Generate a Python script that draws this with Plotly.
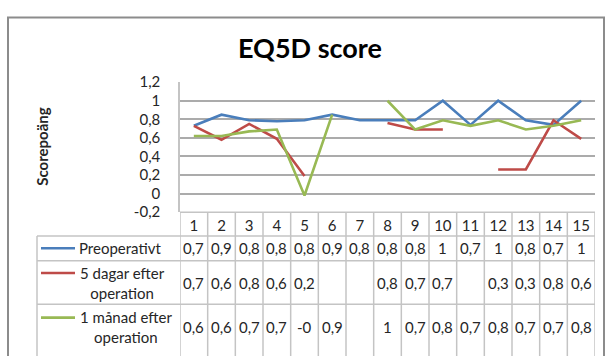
import plotly.graph_objects as go

# ---------------- data ----------------
categories = list(range(1, 16))
preoperativt = [0.73, 0.85, 0.79, 0.78, 0.79, 0.85, 0.79, 0.79, 0.79, 1.0, 0.74, 1.0, 0.79, 0.74, 1.0]
dagar5 = [0.73, 0.58, 0.75, 0.59, 0.19, None, None, 0.76, 0.69, 0.69, None, 0.26, 0.26, 0.79, 0.59]
manad1 = [0.62, 0.62, 0.67, 0.69, -0.02, 0.85, None, 1.0, 0.69, 0.79, 0.73, 0.79, 0.69, 0.73, 0.79]

pre_txt = ["0,7", "0,9", "0,8", "0,8", "0,8", "0,9", "0,8", "0,8", "0,8", "1", "0,7", "1", "0,8", "0,7", "1"]
d5_txt = ["0,7", "0,6", "0,8", "0,6", "0,2", "", "", "0,8", "0,7", "0,7", "", "0,3", "0,3", "0,8", "0,6"]
m1_txt = ["0,6", "0,6", "0,7", "0,7", "-0", "0,9", "", "1", "0,7", "0,8", "0,7", "0,8", "0,7", "0,7", "0,8"]

series_names = ["Preoperativt", "5 dagar efter<br>operation", "1 månad efter<br>operation"]
series_colors = ["#4A7EBB", "#BE4B48", "#98B954"]

y_tickvals = [-0.2, 0, 0.2, 0.4, 0.6, 0.8, 1.0, 1.2]
y_ticktext = ["-0,2", "0", "0,2", "0,4", "0,6", "0,8", "1", "1,2"]

title_text = "EQ5D score"
y_title = "Scorepoäng"

# ---------------- layout helpers ----------------
W, H = 605, 356
def px(x):
    return x / W
def py(y):
    return 1 - y / H

FONT = "Lato, Carlito, Calibri, sans-serif"
TXT = "#262626"
GRID = "#ababab"
CELL = "#c4c4c4"
FS = 15

fig = go.Figure()
for vals, name, col in zip([preoperativt, dagar5, manad1], series_names, series_colors):
    fig.add_trace(go.Scatter(x=categories, y=vals, mode="lines", name=name.replace("<br>", " "),
                             line=dict(color=col, width=2.6), connectgaps=False, showlegend=False,
                             hoverinfo="skip"))

shapes = []
annotations = []

# chart border (left and top visible)
shapes.append(dict(type="rect", xref="paper", yref="paper", x0=px(8), x1=px(604), y0=py(370), y1=py(8),
                   line=dict(color="#8c8c8c", width=2), layer="above"))

# table geometry (pixels)
table_left = 37
axis_left = 180
table_right = 595
row_lines = [238, 264, 310]

shapes.append(dict(type="line", xref="paper", yref="paper", x0=px(axis_left), x1=px(table_right),
                   y0=py(213), y1=py(213), line=dict(color=CELL, width=1.5)))
for yy in row_lines:
    shapes.append(dict(type="line", xref="paper", yref="paper", x0=px(table_left), x1=px(table_right),
                       y0=py(yy), y1=py(yy), line=dict(color=CELL, width=1.5)))
shapes.append(dict(type="line", xref="paper", yref="paper", x0=px(table_left), x1=px(table_left),
                   y0=py(238), y1=py(370), line=dict(color=CELL, width=1.5)))
for k in range(len(categories) + 1):
    shapes.append(dict(type="line", xref="x", yref="paper", x0=k + 0.5, x1=k + 0.5,
                       y0=py(213), y1=py(370), line=dict(color=CELL, width=1.5)))

row_centers = [251, 288, 334]
swatch_y = [251, 277, 324]
label_x = [120, 122, 126]
for r, (txts, name, col) in enumerate(zip([pre_txt, d5_txt, m1_txt], series_names, series_colors)):
    for c, t in zip(categories, txts):
        if t:
            annotations.append(dict(x=c, y=py(row_centers[r]), xref="x", yref="paper", text=t,
                                    showarrow=False, xanchor="center", yanchor="middle",
                                    font=dict(family=FONT, size=FS, color=TXT)))
    shapes.append(dict(type="line", xref="paper", yref="paper", x0=px(41), x1=px(75),
                       y0=py(swatch_y[r]), y1=py(swatch_y[r]), line=dict(color=col, width=2.6)))
    if r == 0:
        annotations.append(dict(x=px(77), y=py(row_centers[r]), xref="paper", yref="paper", text=name,
                                showarrow=False, xanchor="left", yanchor="middle",
                                font=dict(family=FONT, size=FS, color=TXT)))
    else:
        annotations.append(dict(x=px(label_x[r]), y=py(row_centers[r]), xref="paper", yref="paper", text=name,
                                showarrow=False, xanchor="center", yanchor="middle", align="center",
                                font=dict(family=FONT, size=FS, color=TXT)))

annotations.append(dict(x=px(310), y=py(39), xref="paper", yref="paper", text="<b>" + title_text + "</b>",
                        showarrow=False, xanchor="center", yanchor="middle",
                        font=dict(family=FONT, size=27, color="#000000")))
annotations.append(dict(x=px(42), y=py(144), xref="paper", yref="paper", text="<b>" + y_title + "</b>",
                        showarrow=False, textangle=-90, xanchor="center", yanchor="middle",
                        font=dict(family=FONT, size=15, color=TXT)))

fig.update_layout(
    width=W, height=H,
    margin=dict(l=0, r=0, t=0, b=0),
    paper_bgcolor="white", plot_bgcolor="white",
    shapes=shapes, annotations=annotations,
    showlegend=False,
    xaxis=dict(domain=[px(axis_left), px(table_right)], range=[0.5, 15.5],
               tickvals=categories, ticktext=[str(c) for c in categories],
               showgrid=False, zeroline=False, showline=False, ticks="",
               ticklabelstandoff=3,
               tickfont=dict(family=FONT, size=FS, color=TXT), fixedrange=True),
    yaxis=dict(domain=[py(213), py(76)], range=[-0.2, 1.2],
               tickvals=y_tickvals, ticktext=y_ticktext,
               showgrid=True, gridcolor=GRID, gridwidth=1.5, zeroline=False,
               showline=True, linecolor=CELL, linewidth=1.5, ticks="",
               ticklabelstandoff=15,
               tickfont=dict(family=FONT, size=FS, color=TXT), fixedrange=True),
)

# remove the default page margin so the figure sits at the window's top-left corner
fig.write_html("out.html", config={"displayModeBar": False},
               post_script="document.body.style.margin='0';")
